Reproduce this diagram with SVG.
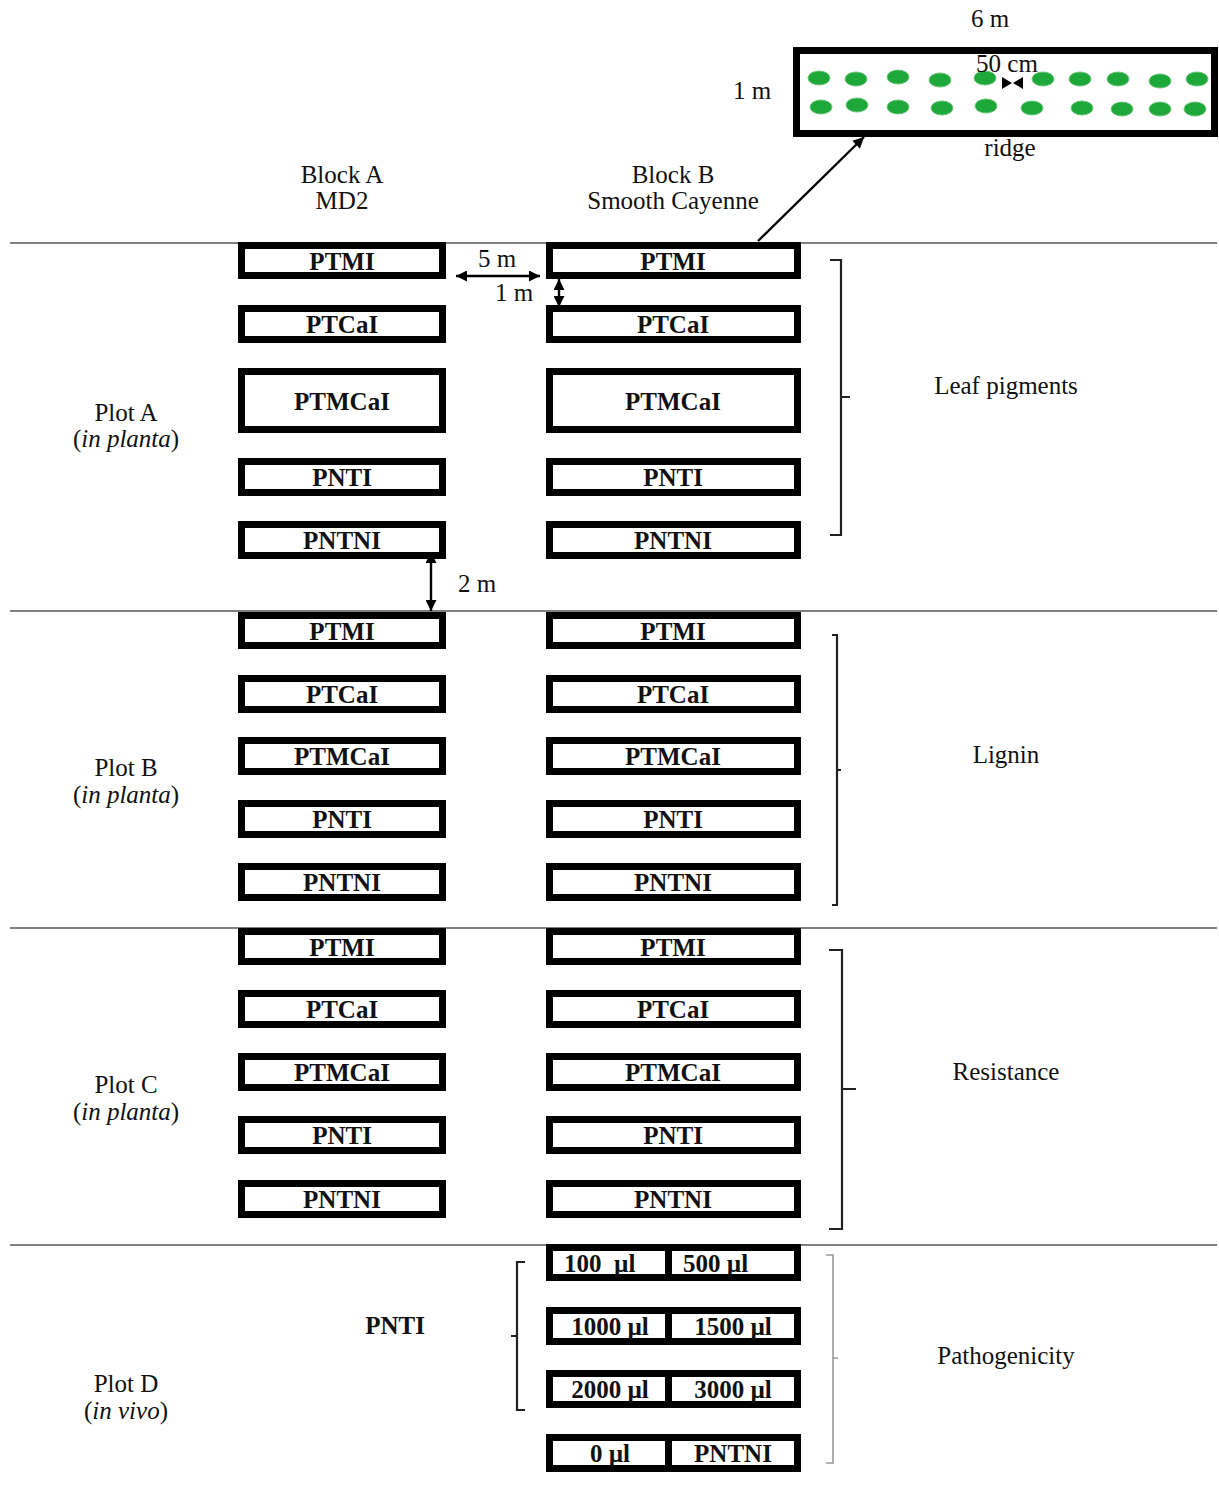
<svg xmlns="http://www.w3.org/2000/svg" width="1219" height="1490" viewBox="0 0 1219 1490">
<style>
text{font-family:"Liberation Serif","Times New Roman","DejaVu Serif",serif;fill:#111}
.t{font-size:25px;text-anchor:middle}
.b{font-size:25px;font-weight:bold;text-anchor:middle}
.box{fill:#fff;stroke:#000;stroke-width:7}
.div{stroke:#000;stroke-width:7}
.hl{stroke:#555;stroke-width:1.6;fill:none}
.br{fill:none;stroke:#222;stroke-width:2.2}
.brg{fill:none;stroke:#999;stroke-width:1.6}
.arr{stroke:#000;stroke-width:2.4;fill:none}
.dot{fill:#1fa83a;stroke:#6cc47a;stroke-width:1}
</style>
<defs>
<marker id="ah" viewBox="0 0 10 10" refX="10" refY="5" markerWidth="13" markerHeight="11" markerUnits="userSpaceOnUse" orient="auto-start-reverse"><path d="M0,0 L10,5 L0,10 z" fill="#000"/></marker>
</defs>

<g id="dividers">
<line class="hl" x1="10" y1="243" x2="1217" y2="243"/>
<line class="hl" x1="10" y1="611" x2="1217" y2="611"/>
<line class="hl" x1="10" y1="928" x2="1217" y2="928"/>
<line class="hl" x1="10" y1="1245" x2="1217" y2="1245"/>
</g>

<g id="field">
<rect class="box" x="796.5" y="50.5" width="418" height="83"/>
<ellipse class="dot" cx="819" cy="78" rx="11" ry="7"/>
<ellipse class="dot" cx="856" cy="79" rx="11" ry="7"/>
<ellipse class="dot" cx="898" cy="77" rx="11" ry="7"/>
<ellipse class="dot" cx="940" cy="80" rx="11" ry="7"/>
<ellipse class="dot" cx="985" cy="78" rx="11" ry="7"/>
<ellipse class="dot" cx="1043" cy="79" rx="11" ry="7"/>
<ellipse class="dot" cx="1080" cy="79" rx="11" ry="7"/>
<ellipse class="dot" cx="1118" cy="79" rx="11" ry="7"/>
<ellipse class="dot" cx="1160" cy="81" rx="11" ry="7"/>
<ellipse class="dot" cx="1197" cy="79" rx="11" ry="7"/>
<ellipse class="dot" cx="821" cy="107" rx="11" ry="7"/>
<ellipse class="dot" cx="857" cy="105" rx="11" ry="7"/>
<ellipse class="dot" cx="898" cy="107" rx="11" ry="7"/>
<ellipse class="dot" cx="942" cy="108" rx="11" ry="7"/>
<ellipse class="dot" cx="986" cy="106" rx="11" ry="7"/>
<ellipse class="dot" cx="1032" cy="108" rx="11" ry="7"/>
<ellipse class="dot" cx="1082" cy="108" rx="11" ry="7"/>
<ellipse class="dot" cx="1122" cy="109" rx="11" ry="7"/>
<ellipse class="dot" cx="1160" cy="109" rx="11" ry="7"/>
<ellipse class="dot" cx="1195" cy="109" rx="11" ry="7"/>
<polygon points="1002,77 1012,83 1002,89" fill="#000"/>
<polygon points="1023,77 1013,83 1023,89" fill="#000"/>
<text class="t" x="990" y="27">6 m</text>
<text class="t" x="1007" y="72">50 cm</text>
<text class="t" x="752" y="99">1 m</text>
<text class="t" x="1010" y="156">ridge</text>
</g>

<g id="headers">
<text class="t" x="342" y="183">Block A</text>
<text class="t" x="342" y="209">MD2</text>
<text class="t" x="673" y="183">Block B</text>
<text class="t" x="673" y="209">Smooth Cayenne</text>
</g>

<g id="plot-labels">
<text class="t" x="126" y="421">Plot A</text>
<text class="t" x="126" y="447">(<tspan font-style="italic">in planta</tspan>)</text>
<text class="t" x="126" y="776">Plot B</text>
<text class="t" x="126" y="803">(<tspan font-style="italic">in planta</tspan>)</text>
<text class="t" x="126" y="1093">Plot C</text>
<text class="t" x="126" y="1120">(<tspan font-style="italic">in planta</tspan>)</text>
<text class="t" x="126" y="1392">Plot D</text>
<text class="t" x="126" y="1419">(<tspan font-style="italic">in vivo</tspan>)</text>
</g>

<g id="plotA">
<g id="A-PTMI-A"><rect class="box" x="241.5" y="245.5" width="201" height="30"/><text class="b" x="342" y="270">PTMI</text></g>
<g id="A-PTCaI-A"><rect class="box" x="241.5" y="308.5" width="201" height="31"/><text class="b" x="342" y="333">PTCaI</text></g>
<g id="A-PTMCaI-A"><rect class="box" x="241.5" y="371.5" width="201" height="58"/><text class="b" x="342" y="410">PTMCaI</text></g>
<g id="A-PNTI-A"><rect class="box" x="241.5" y="461.5" width="201" height="31"/><text class="b" x="342" y="486">PNTI</text></g>
<g id="A-PNTNI-A"><rect class="box" x="241.5" y="524.5" width="201" height="31"/><text class="b" x="342" y="549">PNTNI</text></g>
<g id="A-PTMI-B"><rect class="box" x="549.5" y="245.5" width="248" height="30"/><text class="b" x="673" y="270">PTMI</text></g>
<g id="A-PTCaI-B"><rect class="box" x="549.5" y="308.5" width="248" height="31"/><text class="b" x="673" y="333">PTCaI</text></g>
<g id="A-PTMCaI-B"><rect class="box" x="549.5" y="371.5" width="248" height="58"/><text class="b" x="673" y="410">PTMCaI</text></g>
<g id="A-PNTI-B"><rect class="box" x="549.5" y="461.5" width="248" height="31"/><text class="b" x="673" y="486">PNTI</text></g>
<g id="A-PNTNI-B"><rect class="box" x="549.5" y="524.5" width="248" height="31"/><text class="b" x="673" y="549">PNTNI</text></g>
</g>

<g id="plotB">
<g id="B-PTMI-A"><rect class="box" x="241.5" y="615.5" width="201" height="30"/><text class="b" x="342" y="640">PTMI</text></g>
<g id="B-PTCaI-A"><rect class="box" x="241.5" y="678.5" width="201" height="31"/><text class="b" x="342" y="703">PTCaI</text></g>
<g id="B-PTMCaI-A"><rect class="box" x="241.5" y="740.5" width="201" height="31"/><text class="b" x="342" y="765">PTMCaI</text></g>
<g id="B-PNTI-A"><rect class="box" x="241.5" y="803.5" width="201" height="31"/><text class="b" x="342" y="828">PNTI</text></g>
<g id="B-PNTNI-A"><rect class="box" x="241.5" y="866.5" width="201" height="31"/><text class="b" x="342" y="891">PNTNI</text></g>
<g id="B-PTMI-B"><rect class="box" x="549.5" y="615.5" width="248" height="30"/><text class="b" x="673" y="640">PTMI</text></g>
<g id="B-PTCaI-B"><rect class="box" x="549.5" y="678.5" width="248" height="31"/><text class="b" x="673" y="703">PTCaI</text></g>
<g id="B-PTMCaI-B"><rect class="box" x="549.5" y="740.5" width="248" height="31"/><text class="b" x="673" y="765">PTMCaI</text></g>
<g id="B-PNTI-B"><rect class="box" x="549.5" y="803.5" width="248" height="31"/><text class="b" x="673" y="828">PNTI</text></g>
<g id="B-PNTNI-B"><rect class="box" x="549.5" y="866.5" width="248" height="31"/><text class="b" x="673" y="891">PNTNI</text></g>
</g>

<g id="plotC">
<g id="C-PTMI-A"><rect class="box" x="241.5" y="931.5" width="201" height="30"/><text class="b" x="342" y="956">PTMI</text></g>
<g id="C-PTCaI-A"><rect class="box" x="241.5" y="993.5" width="201" height="31"/><text class="b" x="342" y="1018">PTCaI</text></g>
<g id="C-PTMCaI-A"><rect class="box" x="241.5" y="1056.5" width="201" height="31"/><text class="b" x="342" y="1081">PTMCaI</text></g>
<g id="C-PNTI-A"><rect class="box" x="241.5" y="1119.5" width="201" height="31"/><text class="b" x="342" y="1144">PNTI</text></g>
<g id="C-PNTNI-A"><rect class="box" x="241.5" y="1183.5" width="201" height="31"/><text class="b" x="342" y="1208">PNTNI</text></g>
<g id="C-PTMI-B"><rect class="box" x="549.5" y="931.5" width="248" height="30"/><text class="b" x="673" y="956">PTMI</text></g>
<g id="C-PTCaI-B"><rect class="box" x="549.5" y="993.5" width="248" height="31"/><text class="b" x="673" y="1018">PTCaI</text></g>
<g id="C-PTMCaI-B"><rect class="box" x="549.5" y="1056.5" width="248" height="31"/><text class="b" x="673" y="1081">PTMCaI</text></g>
<g id="C-PNTI-B"><rect class="box" x="549.5" y="1119.5" width="248" height="31"/><text class="b" x="673" y="1144">PNTI</text></g>
<g id="C-PNTNI-B"><rect class="box" x="549.5" y="1183.5" width="248" height="31"/><text class="b" x="673" y="1208">PNTNI</text></g>
</g>

<g id="plotD">
<text class="b" x="395" y="1334">PNTI</text>
<g id="D-row1"><rect class="box" x="549.5" y="1247.5" width="248" height="30"/><line class="div" x1="668.5" y1="1247" x2="668.5" y2="1278"/>
<text class="b" x="564" y="1272" style="text-anchor:start" xml:space="preserve">100  µl</text><text class="b" x="683" y="1272" style="text-anchor:start">500 µl</text></g>
<g id="D-row2"><rect class="box" x="549.5" y="1310.5" width="248" height="31"/><line class="div" x1="668.5" y1="1310" x2="668.5" y2="1342"/>
<text class="b" x="610" y="1335">1000 µl</text><text class="b" x="733" y="1335">1500 µl</text></g>
<g id="D-row3"><rect class="box" x="549.5" y="1373.5" width="248" height="31"/><line class="div" x1="668.5" y1="1373" x2="668.5" y2="1405"/>
<text class="b" x="610" y="1398">2000 µl</text><text class="b" x="733" y="1398">3000 µl</text></g>
<g id="D-row4"><rect class="box" x="549.5" y="1437.5" width="248" height="31"/><line class="div" x1="668.5" y1="1437" x2="668.5" y2="1469"/>
<text class="b" x="610" y="1462">0 µl</text><text class="b" x="733" y="1462">PNTNI</text></g>
</g>

<g id="braces">
<g id="brace-leaf"><path class="br" d="M830,260 H841 V535 H830 M841,397 H850"/><text class="t" x="1006" y="394">Leaf pigments</text></g>
<g id="brace-lignin"><path class="br" d="M832,635 H837 V905 H832 M837,770 H841"/><text class="t" x="1006" y="763">Lignin</text></g>
<g id="brace-resistance"><path class="br" d="M829,950 H842 V1229 H829 M842,1089 H856"/><text class="t" x="1006" y="1080">Resistance</text></g>
<g id="brace-patho"><path class="brg" d="M826,1255 H833 V1463 H826 M833,1358 H838"/><text class="t" x="1006" y="1364">Pathogenicity</text></g>
<g id="brace-pnti"><path class="br" d="M525,1262 H517 V1410 H525 M517,1336 H511"/></g>
</g>

<g id="connectors">
<line class="arr" x1="758" y1="241" x2="864" y2="137" stroke-width="3" marker-end="url(#ah)"/>
<line class="arr" x1="456" y1="276" x2="540" y2="276" marker-start="url(#ah)" marker-end="url(#ah)"/>
<line class="arr" x1="559" y1="279" x2="559" y2="307" marker-start="url(#ah)" marker-end="url(#ah)"/>
<line class="arr" x1="431" y1="552" x2="431" y2="611" marker-start="url(#ah)" marker-end="url(#ah)"/>
<text class="t" x="497" y="267">5 m</text>
<text class="t" x="514" y="301">1 m</text>
<text class="t" x="477" y="592">2 m</text>
</g>
</svg>
